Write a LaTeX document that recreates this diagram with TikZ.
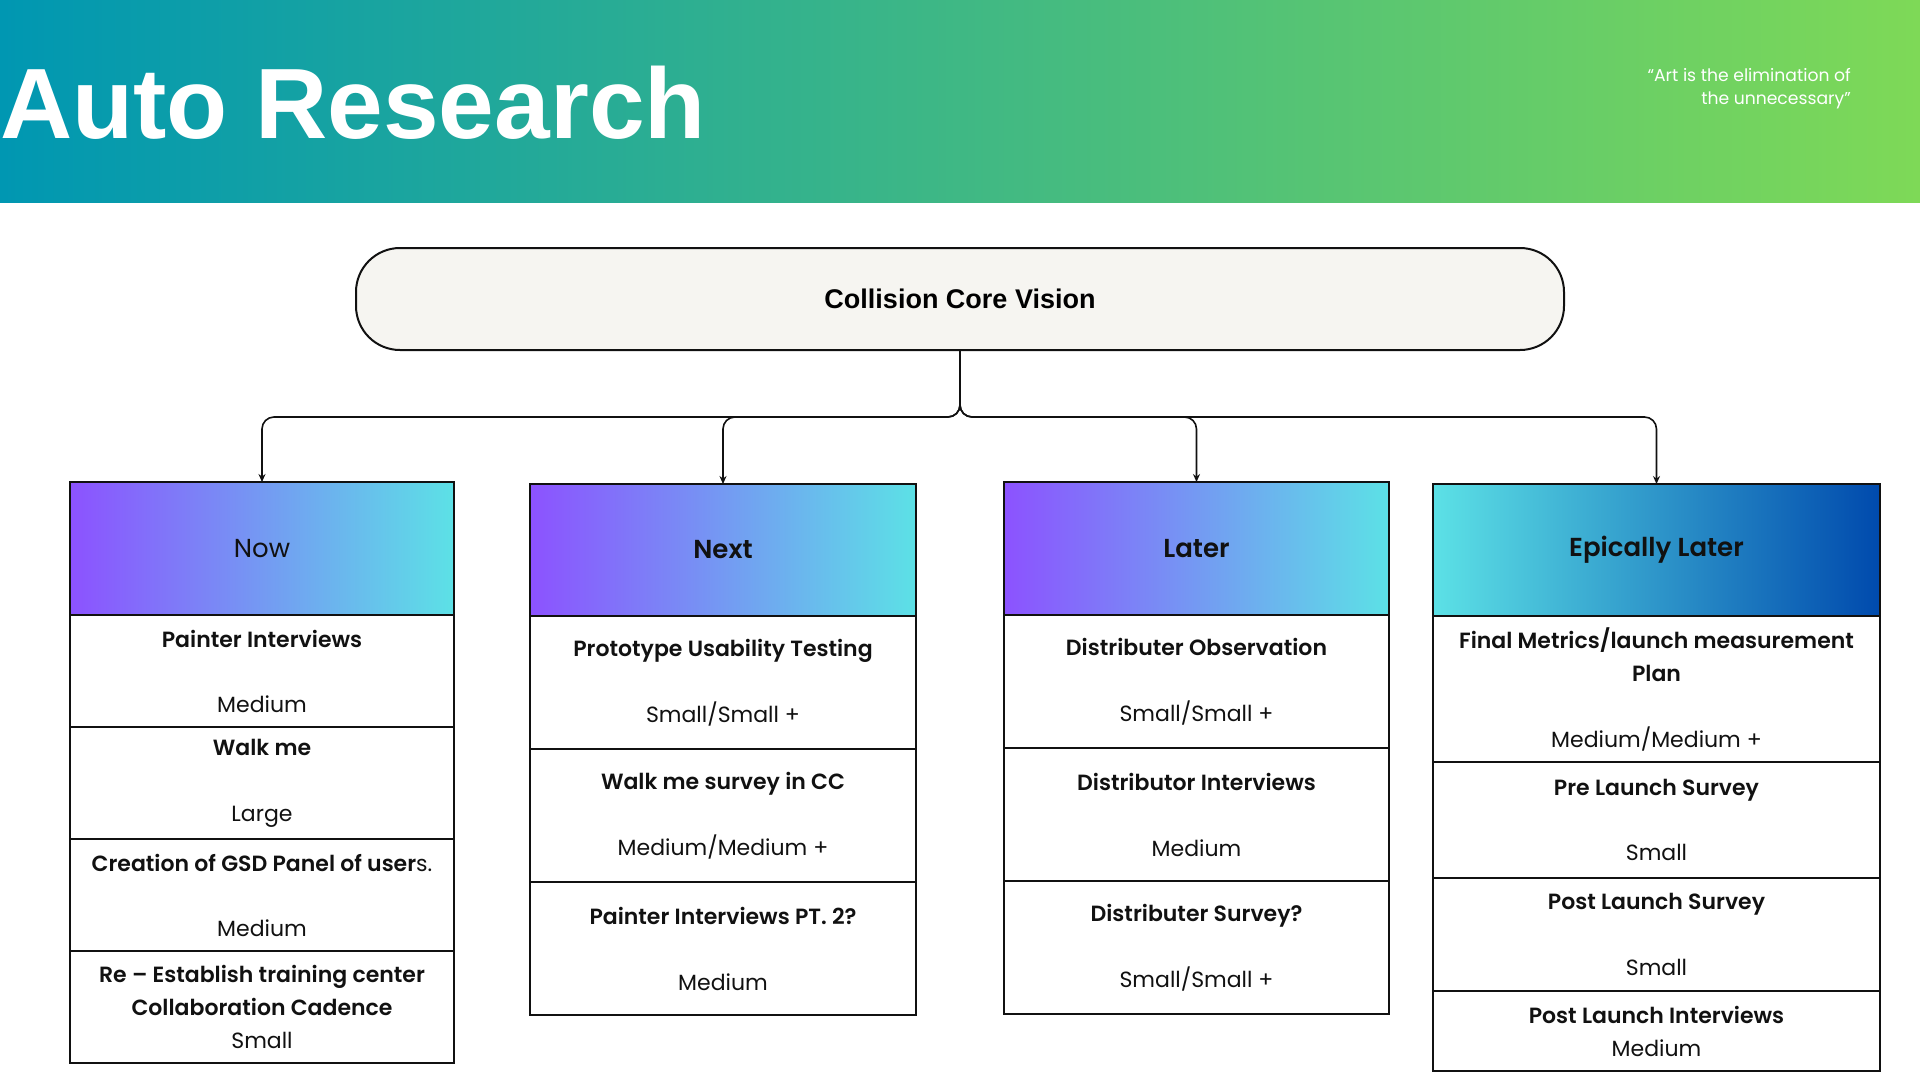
\documentclass[tikz,border=0pt]{standalone}
\usepackage{fontspec}
\setmainfont{Poppins}[BoldFont={Poppins SemiBold}]
\newfontfamily\titlefont{Liberation Sans}
\usepackage{xcolor}
\definecolor{bandleft}{HTML}{0097B2}
\definecolor{bandright}{HTML}{7ED957}
\definecolor{violet}{HTML}{8C52FF}
\definecolor{aqua}{HTML}{5CE1E6}
\definecolor{royal}{HTML}{004AAD}
\definecolor{cream}{HTML}{F6F5F1}
\definecolor{ink}{HTML}{111111}
\usetikzlibrary{arrows.meta,positioning}

\begin{document}
\begin{tikzpicture}[x=1pt,y=-1pt,
  font=\fontsize{22}{33}\selectfont,
  link/.style={line width=1.6pt,ink,rounded corners=12pt,-{Stealth[length=8pt,width=7pt]}},
  vision/.style={rectangle,rounded corners=44pt,draw=ink,line width=2pt,fill=cream,
    minimum width=1208,minimum height=102,font=\titlefont\fontsize{27}{30}\selectfont\bfseries},
  head/.style={rectangle,draw=ink,line width=2pt,inner sep=0pt,outer sep=0pt,
    left color=violet,right color=aqua,text=ink,font=\fontsize{26}{30}\selectfont\bfseries},
  cell/.style={rectangle,draw=ink,line width=2pt,inner sep=0pt,outer sep=0pt,
    fill=white,align=center,text=ink}]
  \useasboundingbox (0,0) rectangle (1920,1080);
  \fill[white] (0,0) rectangle (1920,1080);
  % banner
  \fill[left color=bandleft,right color=bandright] (0,0) rectangle (1920,202);
  \node[anchor=base west,inner sep=0pt,text=white,font=\titlefont\fontsize{100}{100}\selectfont\bfseries] (title) at (0,138) {Auto Research};
  \node[anchor=east,align=right,text=white,inner sep=0pt,font=\fontsize{17.2}{23}\selectfont] (quote) at (1851,89) {“Art is the elimination of\\the unnecessary”};
  % vision and columns
  \node[vision] (vision) at (960,299) {Collision Core Vision};
  \coordinate (split) at (960,417);
  \node[head,minimum width=384,minimum height=133] (now) at (262,548.5) {\mdseries Now};
  \node[head,minimum width=386,minimum height=132] (next) at (723,550) {Next};
  \node[head,minimum width=385,minimum height=133] (later) at (1196.5,548.5) {Later};
  \node[head,minimum width=447,minimum height=132,left color=aqua,right color=royal] (epic) at (1656.5,550) {Epically Later};
  \foreach \n in {now,next,later,epic} \draw[link] (vision.south) -- (split) -| (\n.north);
  % now
  \node[cell,minimum width=384,minimum height=112,below=0pt of now] (now1) {\textbf{Painter Interviews}\\[32pt]Medium};
  \node[cell,minimum width=384,minimum height=112,below=0pt of now1] (now2) {\textbf{Walk me}\\[33pt]Large};
  \node[cell,minimum width=384,minimum height=112,below=0pt of now2] (now3) {\textbf{Creation of GSD Panel of user}s.\\[32pt]Medium};
  \node[cell,minimum width=384,minimum height=112,below=0pt of now3] (now4) {\textbf{Re – Establish training center}\\\textbf{Collaboration Cadence}\\Small};
  % next
  \node[cell,minimum width=386,minimum height=133,below=0pt of next] (next1) {\textbf{Prototype Usability Testing}\\[33pt]Small/Small +};
  \node[cell,minimum width=386,minimum height=133,below=0pt of next1] (next2) {\textbf{Walk me survey in CC}\\[33pt]Medium/Medium +};
  \node[cell,minimum width=386,minimum height=133,below=0pt of next2] (next3) {\textbf{Painter Interviews PT. 2?}\\[33pt]Medium};
  % later
  \node[cell,minimum width=385,minimum height=133,below=0pt of later] (later1) {\textbf{Distributer Observation}\\[33pt]Small/Small +};
  \node[cell,minimum width=385,minimum height=133,below=0pt of later1] (later2) {\textbf{Distributor Interviews}\\[33pt]Medium};
  \node[cell,minimum width=385,minimum height=133,below=0pt of later2] (later3) {\textbf{Distributer Survey?}\\[33pt]Small/Small +};
  % epically later
  \node[cell,minimum width=447,minimum height=146,below=0pt of epic] (epic1) {\textbf{Final Metrics/launch measurement}\\\textbf{Plan}\\[33pt]Medium/Medium +};
  \node[cell,minimum width=447,minimum height=116,below=0pt of epic1] (epic2) {\textbf{Pre Launch Survey}\\[32pt]Small};
  \node[cell,minimum width=447,minimum height=113,below=0pt of epic2] (epic3) {\textbf{Post Launch Survey}\\[33pt]Small};
  \node[cell,minimum width=447,minimum height=80,below=0pt of epic3] (epic4) {\textbf{Post Launch Interviews}\\Medium};
\end{tikzpicture}
\end{document}
